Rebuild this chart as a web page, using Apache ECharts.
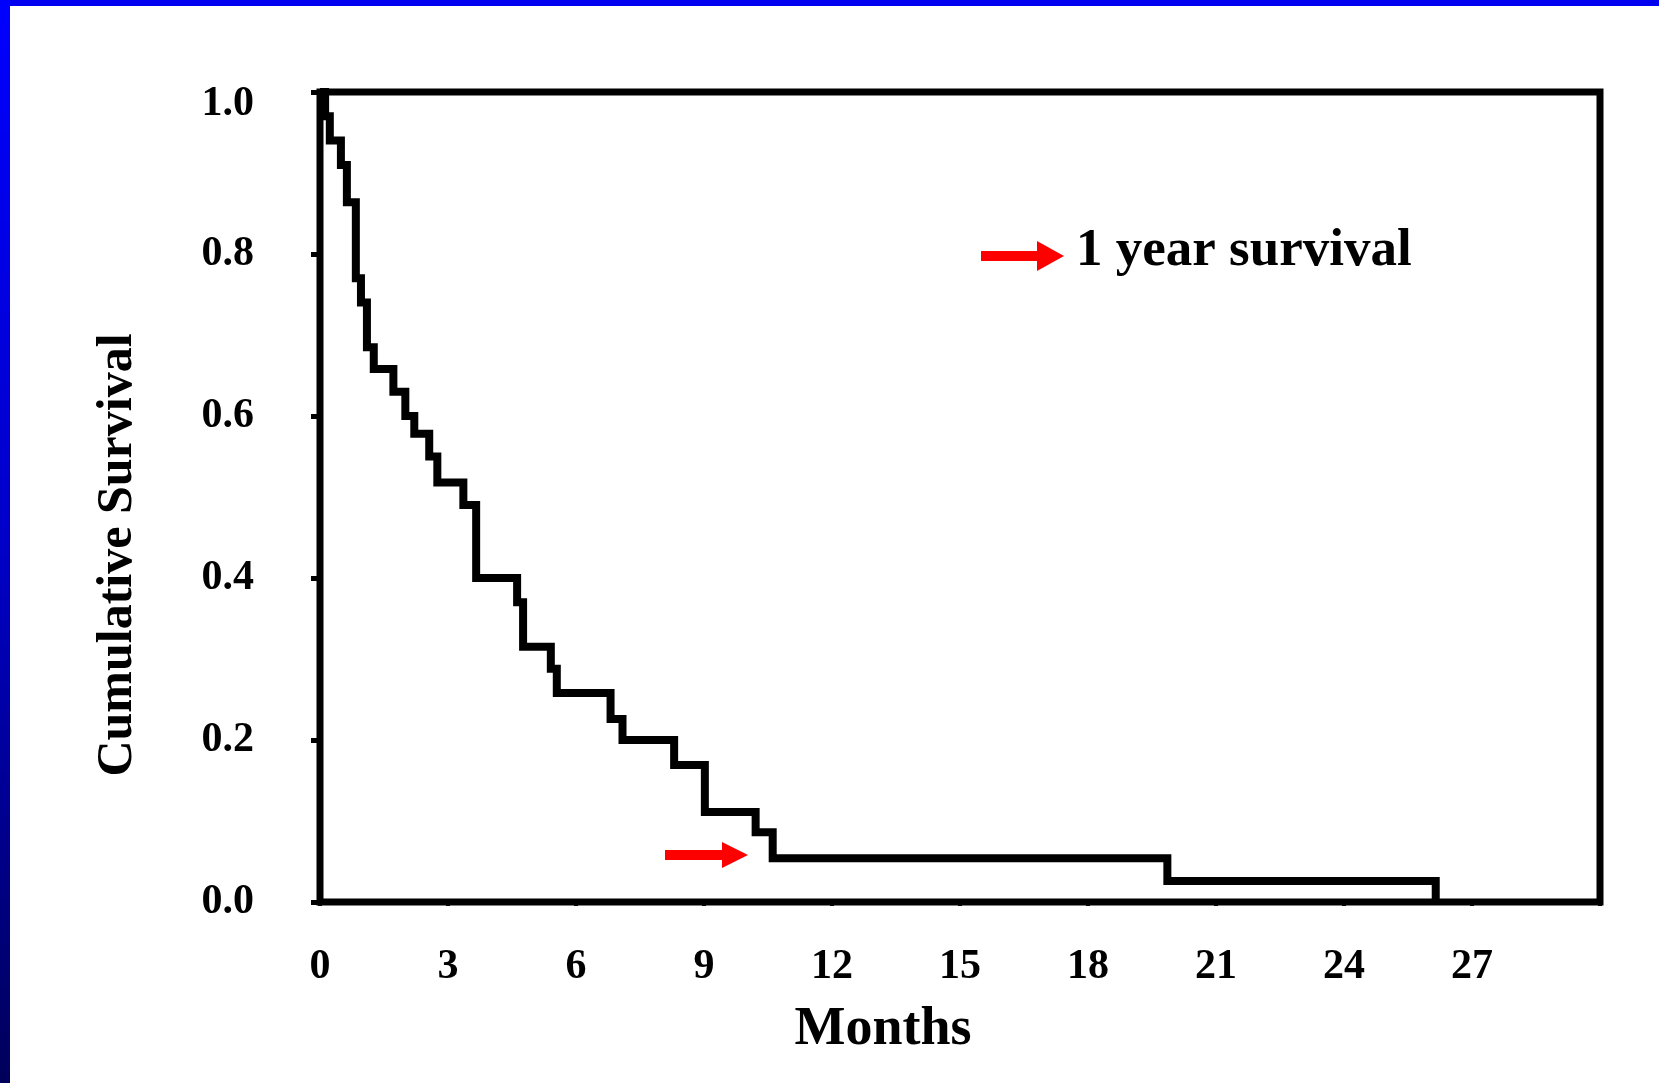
<!DOCTYPE html>
<html>
<head>
<meta charset="utf-8">
<script src="https://cdn.jsdelivr.net/npm/echarts@6/dist/echarts.min.js"></script>
<style>
  html, body { margin: 0; padding: 0; background: #fff; }
  #main { width: 1659px; height: 1083px; }
</style>
</head>
<body>
<div id="main"></div>
<script>
// Kaplan-Meier curve (months, cumulative survival)
var months = [0, 0.12, 0.23, 0.49, 0.63, 0.84, 0.96, 1.10, 1.26, 1.72,
              2.0, 2.21, 2.56, 2.75, 3.36, 3.66, 4.62, 4.76, 5.41, 5.55,
              6.81, 7.09, 8.30, 9.02, 10.21, 10.61, 19.86, 26.15];
var survival = [1.0, 0.97, 0.94, 0.91, 0.864, 0.77, 0.74, 0.685, 0.658, 0.63,
                0.60, 0.578, 0.55, 0.518, 0.49, 0.40, 0.37, 0.315, 0.288, 0.258,
                0.226, 0.20, 0.169, 0.111, 0.086, 0.054, 0.026, 0.0];
var xTicks = [0, 3, 6, 9, 12, 15, 18, 21, 24, 27];
var yTicks = [0, 0.2, 0.4, 0.6, 0.8, 1.0];

var labelFont = {
    fontFamily: 'Liberation Serif',
    fontWeight: 'bold',
    color: '#000'
};

function pairs(xs, ys) {
    var arr = [];
    for (var i = 0; i < xs.length; i++) {
        arr.push([xs[i], ys[i]]);
    }
    return arr;
}

var myChart = echarts.init(document.getElementById('main'), null, {renderer: 'canvas'});

var option = {
    backgroundColor: '#fff',
    animation: false,
    grid: {
        left: 320,
        right: 59,
        top: 92,
        bottom: 181,
        show: true,
        borderColor: '#000',
        borderWidth: 7,
        backgroundColor: 'transparent'
    },
    xAxis: {
        type: 'value',
        min: 0,
        max: 30,
        interval: 3,
        splitLine: {show: false},
        axisLine: {show: false},
        axisTick: {show: true, inside: false, length: 4, lineStyle: {color: '#000', width: 4}},
        axisLabel: {
            fontFamily: labelFont.fontFamily,
            fontWeight: labelFont.fontWeight,
            color: labelFont.color,
            fontSize: 42,
            margin: 44,
            formatter: function (v) {
                return xTicks.indexOf(v) >= 0 ? String(v) : '';
            }
        }
    },
    yAxis: {
        type: 'value',
        min: 0,
        max: 1,
        interval: 0.2,
        splitLine: {show: false},
        axisLine: {show: false},
        axisTick: {show: true, inside: false, length: 9, lineStyle: {color: '#000', width: 5}},
        axisLabel: {
            fontFamily: labelFont.fontFamily,
            fontWeight: labelFont.fontWeight,
            color: labelFont.color,
            fontSize: 42,
            margin: 66,
            formatter: function (v) {
                // the top label sits a little below its tick in the original
                return v === 1 ? '{top|' + v.toFixed(1) + '}' : v.toFixed(1);
            },
            rich: {
                top: {
                    fontFamily: labelFont.fontFamily,
                    fontWeight: labelFont.fontWeight,
                    color: labelFont.color,
                    fontSize: 42,
                    padding: [24, 0, 0, 0]
                }
            }
        }
    },
    graphic: [
        // blue slide frame
        {
            type: 'rect',
            shape: {x: 0, y: 0, width: 1659, height: 6},
            style: {fill: '#0000f0'}
        },
        {
            type: 'rect',
            shape: {x: 0, y: 0, width: 10, height: 1083},
            style: {
                fill: new echarts.graphic.LinearGradient(0, 0, 0, 1, [
                    {offset: 0, color: '#0000ff'},
                    {offset: 0.5, color: '#0000c8'},
                    {offset: 1, color: '#00005a'}
                ])
            }
        },
        // axis titles
        {
            type: 'text',
            x: 118,
            y: 555,
            rotation: Math.PI / 2,
            style: {
                text: 'Cumulative Survival',
                fontFamily: 'Liberation Serif',
                fontWeight: 'bold',
                fontSize: 50,
                fill: '#000',
                textAlign: 'center',
                textVerticalAlign: 'middle'
            }
        },
        {
            type: 'text',
            x: 883,
            y: 1030,
            style: {
                text: 'Months',
                fontFamily: 'Liberation Serif',
                fontWeight: 'bold',
                fontSize: 54,
                fill: '#000',
                textAlign: 'center',
                textVerticalAlign: 'middle'
            }
        },
        // "1 year survival" note with red arrows
        {
            type: 'rect',
            shape: {x: 981, y: 251, width: 57, height: 10},
            style: {fill: '#ff0000'}
        },
        {
            type: 'polygon',
            shape: {points: [[1037, 241], [1064, 256], [1037, 271]]},
            style: {fill: '#ff0000'}
        },
        {
            type: 'text',
            x: 1076,
            y: 251,
            style: {
                text: '1 year survival',
                fontFamily: 'Liberation Serif',
                fontWeight: 'bold',
                fontSize: 53,
                fill: '#000',
                textAlign: 'left',
                textVerticalAlign: 'middle'
            }
        },
        {
            type: 'rect',
            shape: {x: 665, y: 850, width: 58, height: 10},
            style: {fill: '#ff0000'}
        },
        {
            type: 'polygon',
            shape: {points: [[722, 842], [748, 855], [722, 868]]},
            style: {fill: '#ff0000'}
        }
    ],
    series: [
        {
            name: 'Cumulative Survival',
            type: 'line',
            step: 'end',
            clip: false,
            symbol: 'none',
            lineStyle: {color: '#000', width: 8, join: 'miter'},
            data: pairs(months, survival)
        }
    ]
};

myChart.setOption(option, true);
</script>
</body>
</html>
